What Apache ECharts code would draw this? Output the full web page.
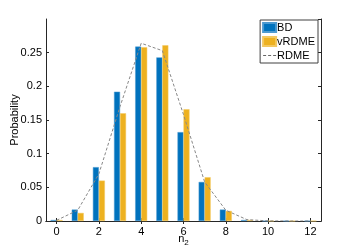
<!DOCTYPE html>
<html>
<head>
<meta charset="utf-8">
<script src="https://cdn.jsdelivr.net/npm/echarts@6/dist/echarts.min.js"></script>
<style>html,body{margin:0;padding:0;background:#fff}#c{width:354px;height:250px}</style>
</head>
<body>
<div id="c"></div>
<script>
const categories = ['0','1','2','3','4','5','6','7','8','9','10','11','12'];
const bdValues    = [0.0015, 0.017, 0.080, 0.192, 0.259, 0.243, 0.132, 0.058, 0.017, 0.0015, 0, 0, 0];
const vrdmeValues = [0.0015, 0.012, 0.060, 0.160, 0.258, 0.261, 0.166, 0.065, 0.015, 0.0015, 0, 0, 0];
const rdmeValues  = [0.001, 0.016, 0.070, 0.170, 0.264, 0.253, 0.158, 0.058, 0.016, 0.002, 0.0002, 0, 0];
const seriesNames = ['BD', 'vRDME', 'RDME'];

const FONT = 'Liberation Sans, Arial, sans-serif';
const AX = '#262626';
const chart = echarts.init(document.getElementById('c'), null, {renderer: 'canvas'});
const catAxisBase = {
  type: 'category', data: categories, boundaryGap: true,
  axisLine: {show: true, lineStyle: {color: AX, width: 1}},
  axisTick: {show: true, inside: true, length: 3, alignWithLabel: true, interval: 1, lineStyle: {color: AX}},
  splitLine: {show: false}
};
const valAxisBase = {
  type: 'value', min: 0, max: 0.3, interval: 0.05,
  axisLine: {show: true, lineStyle: {color: AX, width: 1}},
  axisTick: {show: true, inside: true, length: 3, lineStyle: {color: AX}},
  splitLine: {show: false}
};
chart.setOption({
  animation: false,
  backgroundColor: '#fff',
  textStyle: {fontFamily: FONT},
  grid: {left: 46, top: 19, right: 33, bottom: 29, containLabel: false, outerBoundsMode: 'none'},
  legend: {
    orient: 'vertical', right: 36, top: 20,
    backgroundColor: '#fff', borderColor: '#404040', borderWidth: 1,
    padding: [2, 3, 2, 2], itemGap: 3, itemWidth: 13, itemHeight: 9,
    textStyle: {fontFamily: FONT, fontSize: 11, color: '#000', padding: [0,0,0,-4]},
    data: [
      {name: 'BD', icon: 'rect'},
      {name: 'vRDME', icon: 'rect'},
      {name: 'RDME', icon: 'path://M0,0 L3,0 L3,1 L0,1 Z M5,0 L8,0 L8,1 L5,1 Z M10,0 L13,0 L13,1 L10,1 Z', itemStyle: {color: '#666666'}}
    ]
  },
  xAxis: [
    Object.assign({}, catAxisBase, {
      position: 'bottom',
      axisLabel: {show: true, interval: 1, color: '#000', fontSize: 11, fontFamily: FONT, margin: 5},
      name: '{n|n}{s|2}', nameLocation: 'middle', nameGap: 10, nameMoveOverlap: false,
      nameTextStyle: {rich: {n: {fontSize: 11, color: '#000', fontFamily: FONT}, s: {fontSize: 8, color: '#000', fontFamily: FONT, verticalAlign: 'bottom', padding: [8,0,0,0]}}}
    }),
    Object.assign({}, catAxisBase, {position: 'top', axisLabel: {show: false}})
  ],
  yAxis: [
    Object.assign({}, valAxisBase, {
      position: 'left',
      axisLabel: {show: true, showMaxLabel: false, color: '#000', fontSize: 11, fontFamily: FONT, margin: 4},
      name: 'Probability', nameLocation: 'middle', nameGap: 26, nameMoveOverlap: false,
      nameTextStyle: {fontSize: 11, color: '#000', fontFamily: FONT}
    }),
    Object.assign({}, valAxisBase, {position: 'right', axisLabel: {show: false}})
  ],
  series: [
    {name: seriesNames[0], type: 'bar', data: bdValues, barWidth: 6, barGap: '0%',
     itemStyle: {color: '#0072BD', borderColor: '#4d9ad0', borderWidth: 0.5}},
    {name: seriesNames[1], type: 'bar', data: vrdmeValues, barWidth: 6, barGap: '0%',
     itemStyle: {color: '#EDB120', borderColor: '#f3c860', borderWidth: 0.5}},
    {name: seriesNames[2], type: 'line', data: rdmeValues, symbol: 'none', z: 5,
     lineStyle: {color: '#888888', width: 1, type: [3, 2]}, itemStyle: {color: '#888888'}}
  ]
});
</script>
</body>
</html>
